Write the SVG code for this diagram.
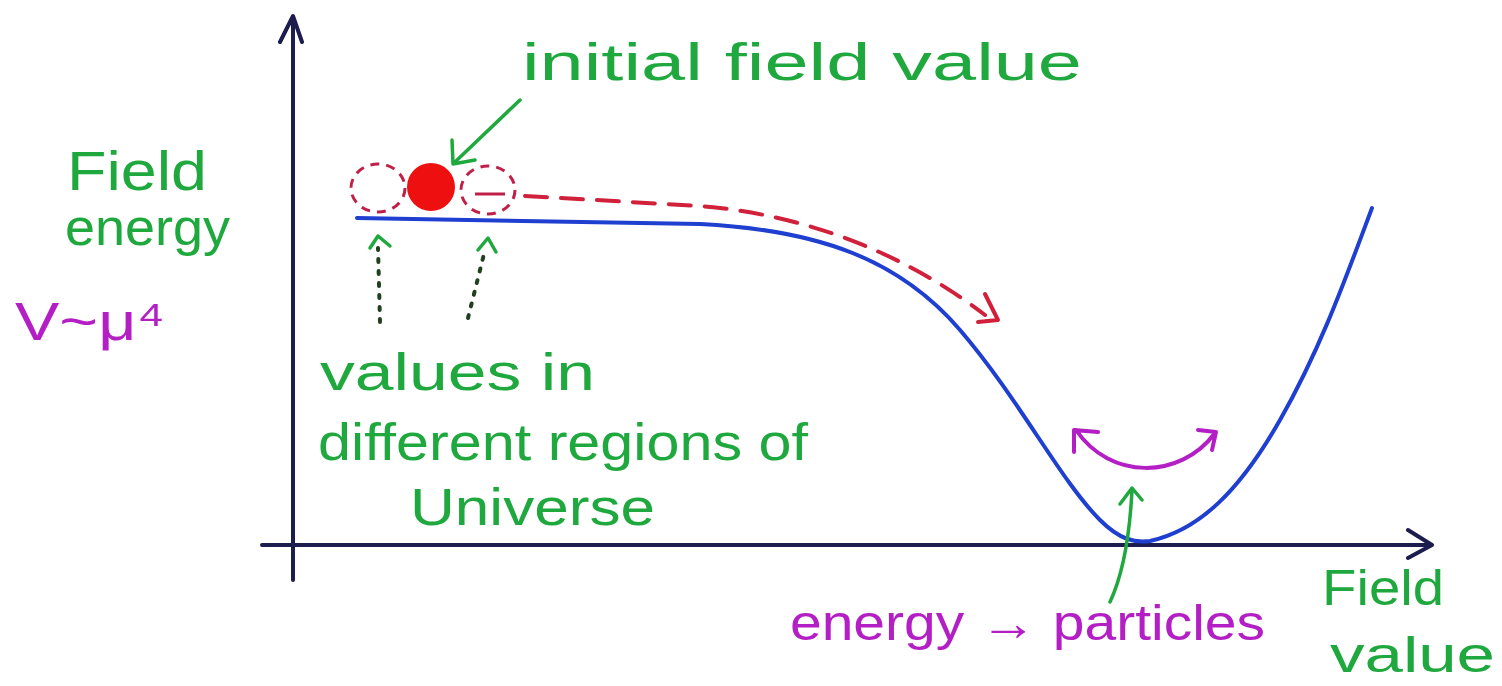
<svg xmlns="http://www.w3.org/2000/svg" width="1502" height="686" viewBox="0 0 1502 686">
<style>
.g{fill:#1fa83e;font-family:"Liberation Sans",Arial,sans-serif}
.m{fill:#b31fc4;font-family:"Liberation Sans",Arial,sans-serif}
.axis{stroke:#1c1c4e;stroke-width:4;fill:none;stroke-linecap:round;stroke-linejoin:round}
.curve{stroke:#1f3fd0;stroke-width:4;fill:none;stroke-linecap:round}
.reddash{stroke:#d0203a;stroke-width:4;fill:none;stroke-dasharray:22 14;stroke-linecap:round}
.dashc{stroke:#c02048;stroke-width:3;fill:none;stroke-dasharray:9 7}
.garr{stroke:#1fa83e;stroke-width:3.5;fill:none;stroke-linecap:round;stroke-linejoin:round}
.dots{stroke:#204020;stroke-width:4;fill:none;stroke-dasharray:3 9;stroke-linecap:round}
.marr{stroke:#b31fc4;stroke-width:4;fill:none;stroke-linecap:round;stroke-linejoin:round}
</style>
<rect width="1502" height="686" fill="#ffffff"/>
<g id="axes">
<path class="axis" d="M293,580 L293,18 M280,42 L293,16 L302,42"/>
<path class="axis" d="M262,545 L1430,545 M1408,530 L1432,545 L1408,558"/>
</g>
<g id="potential-curve">
<path class="curve" d="M357,218 L700,224 C820,230 900,260 960,330 C1020,400 1060,480 1100,520 C1120,540 1135,543 1150,541 C1200,530 1240,490 1280,420 C1320,350 1345,280 1372,208"/>
</g>
<g id="balls">
<circle cx="431" cy="187" r="24" fill="#ee1010"/>
<ellipse class="dashc" cx="378" cy="188" rx="27" ry="24"/>
<ellipse class="dashc" cx="488" cy="190" rx="27" ry="24"/>
<path stroke="#c02048" stroke-width="3" d="M475,194 L505,194"/>
</g>
<g id="connectors">
<path class="reddash" d="M525,196 L700,206 C800,214 900,250 985,315"/>
<path stroke="#d0203a" stroke-width="4" fill="none" stroke-linecap="round" stroke-linejoin="round" d="M985,294 L998,320 L978,322"/>
<path class="garr" d="M520,100 L455,162 M452,140 L453,164 L475,160"/>
<path class="dots" d="M380,322 L378,248"/>
<path class="garr" d="M370,248 L378,236 L390,246"/>
<path class="dots" d="M468,318 L485,250"/>
<path class="garr" d="M478,250 L488,238 L496,252"/>
<path class="marr" d="M1076,430 C1110,480 1180,480 1215,433 M1074,452 L1074,430 L1098,432 M1198,430 L1216,432 L1212,450"/>
<path class="garr" d="M1110,602 C1125,570 1130,530 1132,490 M1120,504 L1132,488 L1142,500"/>
</g>
<g id="labels">
<text class="g" x="522" y="80" font-size="52" textLength="560" lengthAdjust="spacingAndGlyphs">initial field value</text>
<text class="g" x="67" y="190" font-size="56" textLength="140" lengthAdjust="spacingAndGlyphs">Field</text>
<text class="g" x="65" y="245" font-size="52" textLength="165" lengthAdjust="spacingAndGlyphs">energy</text>
<text class="m" x="15" y="340" font-size="54" textLength="150" lengthAdjust="spacingAndGlyphs">V~μ⁴</text>
<text class="g" x="320" y="390" font-size="52" textLength="275" lengthAdjust="spacingAndGlyphs">values in</text>
<text class="g" x="318" y="460" font-size="52" textLength="490" lengthAdjust="spacingAndGlyphs">different regions of</text>
<text class="g" x="410" y="525" font-size="52" textLength="245" lengthAdjust="spacingAndGlyphs">Universe</text>
<text class="m" x="790" y="640" font-size="50" textLength="475" lengthAdjust="spacingAndGlyphs">energy → particles</text>
<text class="g" x="1322" y="605" font-size="50" textLength="122" lengthAdjust="spacingAndGlyphs">Field</text>
<text class="g" x="1330" y="672" font-size="50" textLength="165" lengthAdjust="spacingAndGlyphs">value</text>
</g>
</svg>
